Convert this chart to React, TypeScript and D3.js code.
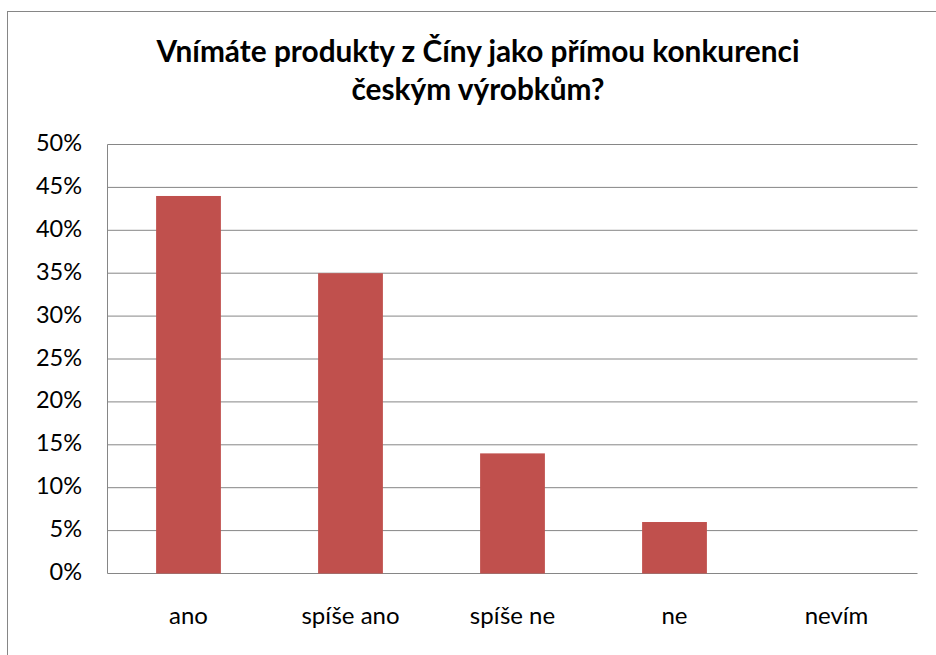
import * as d3 from 'd3';
import React from 'react';

const categories = ['ano', 'spíše ano', 'spíše ne', 'ne', 'nevím'];
const values = [0.44, 0.35, 0.14, 0.06, 0];
const yTicks = [0, 0.05, 0.1, 0.15, 0.2, 0.25, 0.3, 0.35, 0.4, 0.45, 0.5];
const titleLines = ['Vnímáte produkty z Číny jako přímou konkurenci', 'českým výrobkům?'];

function App() {
    const width = 936;
    const height = 655;
    // plot area
    const left = 107.5, right = 917.5, top = 144.5, bottom = 573.5;

    const x = d3.scaleBand<string>()
        .domain(categories)
        .range([left, right])
        .paddingInner(0.6)
        .paddingOuter(0.3);
    const y = d3.scaleLinear().domain([0, 0.5]).range([bottom, top]);
    const fmt = d3.format('.0%');
    const font = 'Lato, "Open Sans", sans-serif';

    return (
        <svg width={width} height={height} style={{ position: 'absolute', left: 0, top: 0 }} fontFamily={font}>
            <rect x={0} y={0} width={width} height={height} fill="#fff" />
            {/* chart frame */}
            <rect x={7.5} y={11.5} width={width + 20} height={height + 20} fill="none" stroke="#868686" />
            {/* title */}
            <text x={478} textAnchor="middle" fontWeight="bold" fontSize={29.8} fill="#000">
                <tspan x={478} y={62}>{titleLines[0]}</tspan>
                <tspan x={478} y={100}>{titleLines[1]}</tspan>
            </text>
            {/* grid */}
            {yTicks.map(t => (
                <line key={t} x1={left} x2={right} y1={y(t)} y2={y(t)} stroke="#868686" strokeWidth={1} />
            ))}
            <line x1={left} x2={left} y1={top} y2={bottom} stroke="#868686" />
            {/* y labels */}
            {yTicks.map(t => (
                <text key={'l' + t} x={82} y={y(t) + 6.5} textAnchor="end" fontSize={23.5} fill="#000">{fmt(t)}</text>
            ))}
            {/* bars */}
            {categories.map((c, i) => (
                <rect key={c} x={x(c)} y={y(values[i])} width={x.bandwidth()} height={y(0) - y(values[i])} fill="#C0504D" />
            ))}
            {/* x labels */}
            {categories.map(c => (
                <text key={'c' + c} x={(x(c) as number) + x.bandwidth() / 2} y={624} textAnchor="middle" fontSize={24} fill="#000">{c}</text>
            ))}
        </svg>
    );
}

export default App;
